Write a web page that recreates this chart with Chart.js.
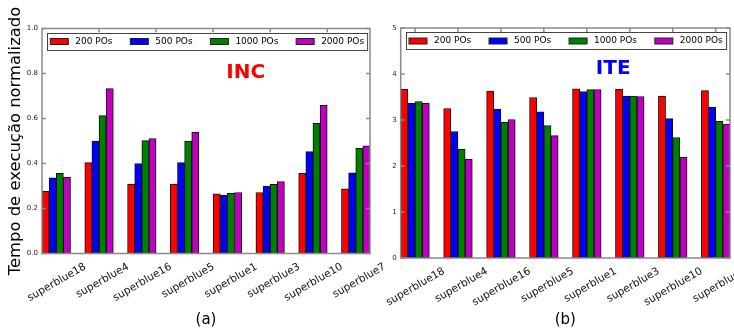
<!DOCTYPE html>
<html>
<head>
<meta charset="utf-8">
<script src="https://cdn.jsdelivr.net/npm/chart.js@4.4.0/dist/chart.umd.min.js"></script>
<style>
  html, body { margin: 0; padding: 0; background: #fff; }
  #wrap { position: relative; width: 734px; height: 332px; }
  #wrap canvas { position: absolute; left: 0; top: 0; }
</style>
</head>
<body>
<div id="wrap">
  <canvas id="chart-inc" width="734" height="332"></canvas>
  <canvas id="chart-ite" width="734" height="332"></canvas>
</div>
<script>
const circuits = ['superblue18', 'superblue4', 'superblue16', 'superblue5', 'superblue1', 'superblue3', 'superblue10', 'superblue7'];
const seriesLabels = ['200 POs', '500 POs', '1000 POs', '2000 POs'];
const seriesColors = ['#ff0000', '#0000ff', '#008000', '#bf00bf'];

// (a) INC
const inc200 = [0.276, 0.404, 0.309, 0.309, 0.265, 0.271, 0.356, 0.287];
const inc500 = [0.336, 0.500, 0.400, 0.404, 0.260, 0.300, 0.453, 0.358];
const inc1000 = [0.356, 0.613, 0.502, 0.500, 0.267, 0.307, 0.579, 0.467];
const inc2000 = [0.338, 0.733, 0.511, 0.538, 0.271, 0.320, 0.659, 0.478];

// (b) ITE
const ite200 = [3.67, 3.25, 3.63, 3.49, 3.68, 3.67, 3.52, 3.64];
const ite500 = [3.36, 2.75, 3.24, 3.18, 3.62, 3.52, 3.03, 3.28];
const ite1000 = [3.40, 2.36, 2.95, 2.88, 3.66, 3.52, 2.62, 2.97];
const ite2000 = [3.36, 2.15, 3.01, 2.66, 3.66, 3.51, 2.19, 2.91];

const FONT = 'DejaVu Sans';
const GROUP_STEP = 0.75;  // distancia entre grupos (unidades do eixo x)
const BAR_W = 0.125;      // largura de cada barra
const X_MAX = GROUP_STEP * (circuits.length - 1) + BAR_W * seriesLabels.length;

// moldura + ticks para dentro, legenda com caixa e o texto INC/ITE
function decorations(cfg) {
  return {
    id: 'decorations',
    afterDatasetsDraw(chart) {
      const { ctx, chartArea: a, scales: { x, y } } = chart;
      ctx.save();
      ctx.strokeStyle = '#8a8a8a';
      ctx.lineWidth = 1.5;
      ctx.beginPath();
      y.ticks.forEach(t => {
        const py = y.getPixelForValue(t.value);
        ctx.moveTo(a.left, py); ctx.lineTo(a.left + 4, py);
        ctx.moveTo(a.right, py); ctx.lineTo(a.right - 4, py);
      });
      cfg.topTicks.forEach(v => {
        const px = x.getPixelForValue(v);
        ctx.moveTo(px, a.top); ctx.lineTo(px, a.top + 4);
      });
      ctx.stroke();
      ctx.strokeRect(a.left, a.top, a.right - a.left, a.bottom - a.top);

      // legenda
      const datasets = chart.data.datasets;
      ctx.font = `9px "${FONT}"`;
      let w = 3.3;
      datasets.forEach((ds, i) => {
        w += 25 + ctx.measureText(ds.label).width + (i < datasets.length - 1 ? 17.8 : 3);
      });
      const fx = a.left + 5, fy = a.top + 4, fh = 17;
      ctx.fillStyle = '#fff';
      ctx.fillRect(fx, fy, w, fh);
      ctx.strokeStyle = '#444';
      ctx.lineWidth = 1;
      ctx.strokeRect(Math.round(fx) + 0.5, Math.round(fy) + 0.5, w, fh);
      let lx = fx + 3.3;
      const cy = fy + fh / 2 + 0.5;
      ctx.textBaseline = 'middle';
      ctx.textAlign = 'left';
      datasets.forEach(ds => {
        ctx.fillStyle = ds.backgroundColor;
        ctx.fillRect(lx, cy - 3, 18, 6);
        ctx.strokeStyle = '#222';
        ctx.strokeRect(lx, cy - 3, 18, 6);
        ctx.fillStyle = '#000';
        ctx.fillText(ds.label, lx + 25, cy);
        lx += 25 + ctx.measureText(ds.label).width + 17.8;
      });

      // rótulo do gráfico
      ctx.font = `bold 20px "${FONT}"`;
      ctx.fillStyle = cfg.tagColor;
      ctx.textAlign = 'center';
      ctx.textBaseline = 'alphabetic';
      ctx.fillText(cfg.tag, x.getPixelForValue(cfg.tagAt[0]), y.getPixelForValue(cfg.tagAt[1]));
      ctx.restore();
    }
  };
}

function drawPanel(canvasId, cfg) {
  const datasets = cfg.series.map((values, k) => ({
    label: seriesLabels[k],
    data: values.map((v, i) => ({ x: i * GROUP_STEP + k * BAR_W + BAR_W / 2, y: v })),
    backgroundColor: seriesColors[k],
    borderColor: '#111',
    borderWidth: 1,
    borderSkipped: false,
    grouped: false,
    barPercentage: 1,
    categoryPercentage: 1,
  }));

  return new Chart(document.getElementById(canvasId), {
    type: 'bar',
    data: { datasets },
    options: {
      responsive: false,
      animation: false,
      devicePixelRatio: 1,
      layout: { padding: cfg.padding },
      plugins: { legend: { display: false }, tooltip: { enabled: false } },
      scales: {
        x: {
          type: 'linear',
          offset: false,
          min: 0,
          max: X_MAX,
          grid: { display: false },
          border: { display: false },
          afterBuildTicks: axis => {
            axis.ticks = circuits.map((c, i) => ({ value: i * GROUP_STEP + BAR_W * 2 }));
          },
          afterFit: axis => {
            axis.height = cfg.xHeight;
            axis.paddingLeft = 0;
            axis.paddingRight = 0;
          },
          ticks: {
            autoSkip: false,
            minRotation: 30,
            maxRotation: 30,
            padding: -1,
            color: '#111',
            font: { family: FONT, size: 10.5 },
            labelOffset: 29,
            callback: (v, i) => circuits[i],
          },
          title: {
            display: true,
            text: cfg.xTitle,
            color: '#000',
            font: { family: FONT, size: 15 },
            padding: { top: 0, bottom: 3 },
          },
        },
        y: {
          min: 0,
          max: cfg.yMax,
          grid: { display: false, drawTicks: false },
          border: { display: false },
          afterFit: axis => {
            axis.width = cfg.yWidth;
            axis.paddingTop = 0;
            axis.paddingBottom = 0;
          },
          ticks: {
            stepSize: cfg.yStep,
            padding: 4,
            color: '#222',
            font: { family: FONT, size: 7 },
            callback: v => v.toFixed(cfg.decimals),
          },
          title: {
            display: !!cfg.yTitle,
            text: cfg.yTitle || '',
            color: '#000',
            font: { family: FONT, size: 16.4 },
            padding: { top: 6, bottom: 0 },
          },
        },
      },
    },
    plugins: [decorations(cfg)],
  });
}

drawPanel('chart-inc', {
  series: [inc200, inc500, inc1000, inc2000],
  yMax: 1.0, yStep: 0.2, decimals: 1,
  padding: { left: 0, right: 364, top: 28.5, bottom: 0 },
  yWidth: 42, xHeight: 78.5,
  xTitle: '(a)',
  yTitle: 'Tempo de execução normalizado',
  tag: 'INC', tagColor: '#ff0000', tagAt: [3.57, 0.78],
  topTicks: [1, 2, 3, 4, 5],
});

drawPanel('chart-ite', {
  series: [ite200, ite500, ite1000, ite2000],
  yMax: 5, yStep: 1, decimals: 0,
  padding: { left: 370, right: 4, top: 28, bottom: 0 },
  yWidth: 30.7, xHeight: 74,
  xTitle: '(b)',
  tag: 'ITE', tagColor: '#0000ff', tagAt: [3.71, 4.0],
  topTicks: circuits.map((c, i) => i * GROUP_STEP + BAR_W * 2),
});
</script>
</body>
</html>
